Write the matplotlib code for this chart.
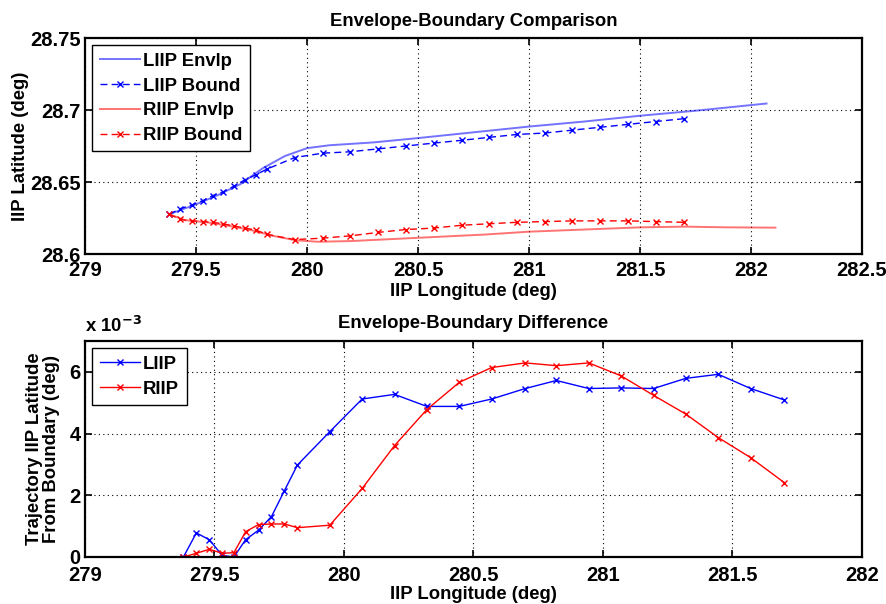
import matplotlib
matplotlib.use("Agg")
import matplotlib.pyplot as plt
import numpy as np

plt.rcParams["font.family"] = ["Liberation Sans", "DejaVu Sans"]
plt.rcParams["font.weight"] = "bold"

# IIP longitudes where the boundary is sampled (deg)
bound_lon = [279.38, 279.43, 279.48, 279.53, 279.575, 279.62, 279.67, 279.72,
             279.77, 279.82, 279.945, 280.07, 280.195, 280.32, 280.445, 280.57,
             280.70, 280.82, 280.945, 281.07, 281.195, 281.32, 281.445, 281.57,
             281.70]

liip_bound_lat = [28.6276, 28.6315, 28.634, 28.637, 28.6405, 28.643, 28.647,
                  28.6515, 28.655, 28.659, 28.667, 28.670, 28.671, 28.673,
                  28.675, 28.677, 28.679, 28.681, 28.683, 28.684, 28.686,
                  28.688, 28.690, 28.692, 28.694]
riip_bound_lat = [28.6276, 28.624, 28.623, 28.6225, 28.622, 28.621, 28.6195,
                  28.618, 28.6166, 28.6136, 28.610, 28.611, 28.6126, 28.615,
                  28.617, 28.618, 28.620, 28.621, 28.622, 28.6225, 28.623,
                  28.623, 28.623, 28.6225, 28.622]

liip_env_lon = [279.38, 279.5, 279.6, 279.7, 279.8, 279.9, 280.0, 280.1, 280.3,
                280.5, 280.75, 281.0, 281.25, 281.5, 281.75, 282.07]
liip_env_lat = [28.6276, 28.6345, 28.641, 28.6485, 28.6595, 28.668, 28.6735,
                28.6755, 28.6775, 28.6805, 28.6845, 28.6885, 28.692, 28.696,
                28.6995, 28.7045]

riip_env_lon = [279.38, 279.45, 279.55, 279.65, 279.75, 279.85, 279.95, 280.05,
                280.2, 280.4, 280.6, 280.8, 281.0, 281.25, 281.5, 281.7, 281.9,
                282.11]
riip_env_lat = [28.6276, 28.6235, 28.622, 28.6195, 28.6165, 28.6125, 28.6095,
                28.6085, 28.609, 28.6105, 28.612, 28.6135, 28.6155, 28.617,
                28.6185, 28.619, 28.6185, 28.6183]

# envelope-boundary latitude difference, in units of 1e-3 deg
liip_diff = [0, 0.78, 0.56, 0.05, 0, 0.56, 0.87, 1.31, 2.15, 2.98, 4.06, 5.12,
             5.27, 4.88, 4.88, 5.12, 5.46, 5.72, 5.46, 5.48, 5.46, 5.79, 5.92,
             5.46, 5.09]
riip_diff = [0, 0.12, 0.25, 0.12, 0.14, 0.82, 1.05, 1.07, 1.07, 0.95, 1.03,
             2.22, 3.61, 4.78, 5.66, 6.14, 6.29, 6.20, 6.29, 5.87, 5.24, 4.63,
             3.87, 3.22, 2.41]

BLUE = "#0000ff"
RED = "#ff0000"
FS = 13.3     # titles, labels, legends
TFS = 14.5    # tick labels


def matlab_axes(ax, xpad=5):
    ax.grid(True, color="black", linestyle=(0, (1, 3)), linewidth=0.8)
    ax.tick_params(direction="in", top=True, right=True, length=5, width=1.2,
                   labelsize=TFS, pad=3)
    ax.tick_params(axis="x", pad=xpad)
    for s in ax.spines.values():
        s.set_linewidth(1.6)
    for lbl in ax.get_xticklabels() + ax.get_yticklabels():
        lbl.set_fontweight("bold")


def matlab_legend(ax):
    leg = ax.legend(loc="upper left", fontsize=FS, fancybox=False, framealpha=1,
                    edgecolor="black", handlelength=2.2, labelspacing=0.42,
                    borderpad=0.4, handletextpad=0.15, borderaxespad=0.4)
    leg.get_frame().set_linewidth(1.0)
    for t in leg.get_texts():
        t.set_fontweight("bold")
    return leg


fig = plt.figure(figsize=(8.86, 6.04), dpi=100)
W, H = 886, 604
ax1 = fig.add_axes([85 / W, 1 - 254 / H, 777 / W, 216 / H])
ax2 = fig.add_axes([85 / W, 1 - 557 / H, 777 / W, 216 / H])

ax1.plot(liip_env_lon, liip_env_lat, color=BLUE, lw=1.4, alpha=0.55,
         label="LIIP Envlp")
ax1.plot(bound_lon, liip_bound_lat, color=BLUE, lw=1.0, ls=(0, (5, 3)),
         marker="x", ms=4, mew=1.0, label="LIIP Bound")
ax1.plot(riip_env_lon, riip_env_lat, color=RED, lw=1.4, alpha=0.55,
         label="RIIP Envlp")
ax1.plot(bound_lon, riip_bound_lat, color=RED, lw=1.0, ls=(0, (5, 3)),
         marker="x", ms=4, mew=1.0, label="RIIP Bound")
ax1.set_xlim(279, 282.5)
ax1.set_ylim(28.6, 28.75)
ax1.set_xticks(np.arange(279, 282.51, 0.5))
ax1.set_xticklabels(["279", "279.5", "280", "280.5", "281", "281.5", "282", "282.5"])
ax1.set_yticks([28.6, 28.65, 28.7, 28.75])
ax1.set_yticklabels(["28.6", "28.65", "28.7", "28.75"])
matlab_axes(ax1)
ax1.set_title("Envelope-Boundary Comparison", fontsize=FS, fontweight="bold", pad=9)
ax1.set_xlabel("IIP Longitude (deg)", fontsize=FS, fontweight="bold", labelpad=2)
ax1.set_ylabel("IIP Latitude (deg)", fontsize=FS, fontweight="bold", labelpad=1)
matlab_legend(ax1)

ax2.plot(bound_lon, liip_diff, color=BLUE, lw=1.0, marker="x", ms=4, mew=1.0,
         label="LIIP")
ax2.plot(bound_lon, riip_diff, color=RED, lw=1.0, marker="x", ms=4, mew=1.0,
         label="RIIP")
ax2.set_xlim(279, 282)
ax2.set_ylim(0, 7)
ax2.set_xticks(np.arange(279, 282.01, 0.5))
ax2.set_xticklabels(["279", "279.5", "280", "280.5", "281", "281.5", "282"])
ax2.set_yticks([0, 2, 4, 6])
matlab_axes(ax2, xpad=6.5)
ax2.set_title("Envelope-Boundary Difference", fontsize=FS, fontweight="bold", pad=9)
ax2.set_xlabel("IIP Longitude (deg)", fontsize=FS, fontweight="bold", labelpad=1)
ax2.set_ylabel("Trajectory IIP Latitude\nFrom Boundary (deg)", fontsize=FS,
               fontweight="bold", labelpad=7, linespacing=1.0)
ax2.text(0.0, 1.025, r"x 10$^{\mathbf{-3}}$", transform=ax2.transAxes,
         fontsize=FS, fontweight="bold", ha="left", va="bottom")
matlab_legend(ax2)

fig.savefig("out.png", dpi=100)
